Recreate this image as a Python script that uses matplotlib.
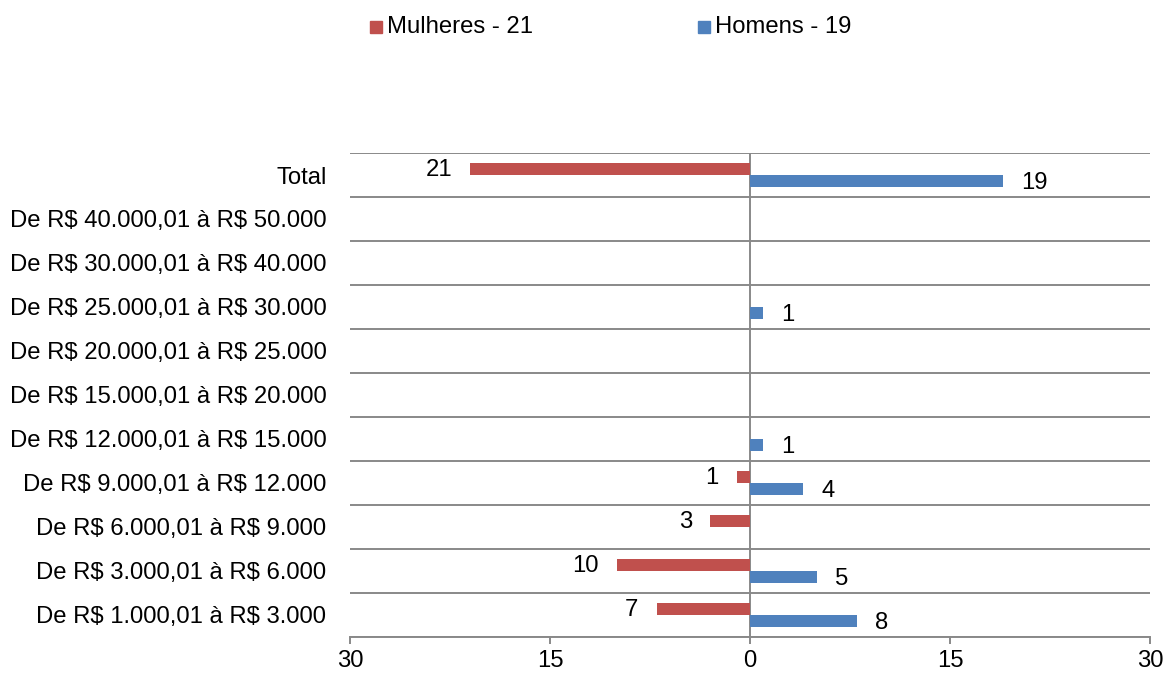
import matplotlib
matplotlib.use("Agg")
import matplotlib.pyplot as plt
from matplotlib.patches import Rectangle
import numpy as np

plt.rcParams['font.family'] = ['Liberation Sans', 'DejaVu Sans']
plt.rcParams['text.parse_math'] = False

categories = [
    "De R$ 1.000,01 à R$ 3.000",
    "De R$ 3.000,01 à R$ 6.000",
    "De R$ 6.000,01 à R$ 9.000",
    "De R$ 9.000,01 à R$ 12.000",
    "De R$ 12.000,01 à R$ 15.000",
    "De R$ 15.000,01 à R$ 20.000",
    "De R$ 20.000,01 à R$ 25.000",
    "De R$ 25.000,01 à R$ 30.000",
    "De R$ 30.000,01 à R$ 40.000",
    "De R$ 40.000,01 à R$ 50.000",
    "Total",
]
mulheres = [7, 10, 3, 1, 0, 0, 0, 0, 0, 0, 21]
homens = [8, 5, 0, 4, 1, 0, 0, 1, 0, 0, 19]
xticks = [-30, -15, 0, 15, 30]
xtick_labels = ["30", "15", "0", "15", "30"]
legend_labels = ["Mulheres - 21", "Homens - 19"]

RED = "#C0504D"
BLUE = "#4F81BD"
GRID = "#898989"
FS = 17.2

W, H = 1163, 673
fig = plt.figure(figsize=(W / 100, H / 100), dpi=100)
ax = fig.add_axes([350 / W, 1 - 637 / H, 800 / W, (637 - 153) / H])

y = np.arange(len(categories))
bh = 0.28
ax.barh(y + bh / 2, [-v for v in mulheres], height=bh, color=RED, zorder=3)
ax.barh(y - bh / 2, homens, height=bh, color=BLUE, zorder=3)

for yi, v in zip(y, mulheres):
    if v:
        ax.annotate(str(v), (-v, yi + bh / 2), xytext=(-13, -1), textcoords="offset points",
                    ha="right", va="center", fontsize=FS, zorder=4)
for yi, v in zip(y, homens):
    if v:
        ax.annotate(str(v), (v, yi - bh / 2), xytext=(13, -1), textcoords="offset points",
                    ha="left", va="center", fontsize=FS, zorder=4)

ax.set_xlim(-30, 30)
ax.set_ylim(-0.5, len(categories) - 0.5)

for b in np.arange(-0.5, len(categories) + 0.5, 1.0):
    ax.axhline(b, color=GRID, lw=1.4, zorder=1)
ax.axvline(0, color=GRID, lw=1.4, zorder=2)

ax.set_yticks(y)
ax.set_yticklabels(categories, fontsize=FS)
ax.tick_params(axis="y", length=0, pad=17)
ax.set_xticks(xticks)
ax.set_xticklabels(xtick_labels, fontsize=FS)
ax.tick_params(axis="x", length=5, width=1.4, color=GRID, pad=4.5, direction="out")
for s in ["top", "right", "left"]:
    ax.spines[s].set_visible(False)
ax.spines["bottom"].set_color(GRID)
ax.spines["bottom"].set_linewidth(1.4)

leg_y = 1 - 27 / H
for xpix, col, lab in [(370, RED, legend_labels[0]), (698, BLUE, legend_labels[1])]:
    fig.patches.append(Rectangle((xpix / W, leg_y - 6 / H), 12 / W, 12 / H,
                                 transform=fig.transFigure, color=col, figure=fig))
    fig.text((xpix + 17) / W, leg_y, lab, fontsize=FS, va="center", ha="left")

fig.savefig("out.png", dpi=100)
